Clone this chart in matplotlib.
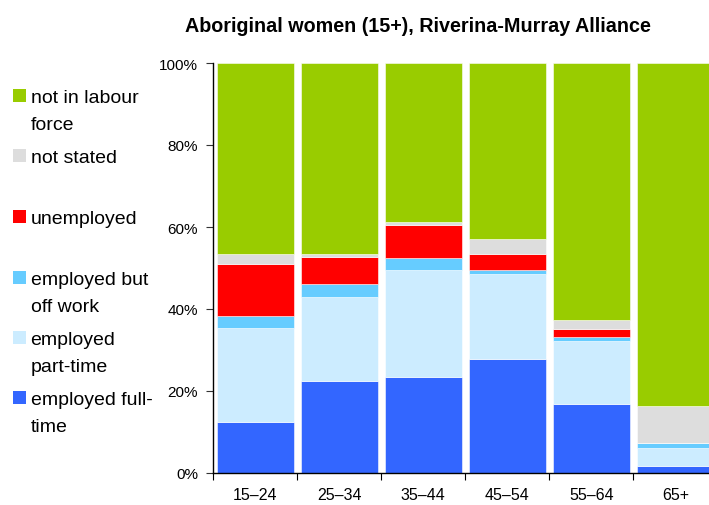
import matplotlib
matplotlib.use("Agg")
import matplotlib.pyplot as plt
from matplotlib.patches import Rectangle
import numpy as np

# age groups and labour force shares (%)
age_groups = ["15\u201324", "25\u201334", "35\u201344", "45\u201354", "55\u201364", "65+"]
full_time = [12.5, 22.4, 23.4, 27.8, 16.8, 1.8]
part_time = [22.8, 20.6, 26.2, 20.7, 15.4, 4.3]
off_work = [2.9, 3.1, 2.8, 1.0, 1.0, 1.2]
unemployed = [12.8, 6.7, 8.2, 4.0, 1.9, 0.0]
not_stated = [2.5, 0.6, 0.7, 3.6, 2.2, 9.1]
not_in_lf = [46.5, 46.6, 38.7, 42.9, 62.7, 83.6]

series = [full_time, part_time, off_work, unemployed, not_stated, not_in_lf]
colours = ["#3366FF", "#CCECFF", "#66CCFF", "#FF0000", "#DDDDDD", "#99CC00"]
legend_labels = ["employed full-\ntime", "employed\npart-time", "employed but\noff work",
                 "unemployed", "not stated", "not in labour\nforce"]

W, H = 709, 506
fig = plt.figure(figsize=(W / 100, H / 100), dpi=100)
# axes run past the right edge on purpose, the last bar is cut off in the original
ax = fig.add_axes([213.3 / W, 32 / H, 504 / W, 410 / H])

x = np.arange(len(age_groups)) + 0.5
bottom = np.zeros(len(age_groups))
for vals, col in zip(series, colours):
    ax.bar(x, vals, width=0.91, bottom=bottom, color=col,
           edgecolor=(1, 1, 1, 0.55), linewidth=0.7)
    bottom += np.array(vals)

ax.set_xlim(0, 6)
ax.set_ylim(0, 100)

ax.spines["top"].set_visible(False)
ax.spines["right"].set_visible(False)
ax.spines["left"].set_linewidth(1.0)
ax.spines["bottom"].set_linewidth(1.0)

ax.set_yticks(np.arange(0, 101, 20))
ax.set_yticklabels([f"{v}%" for v in range(0, 101, 20)])
ax.tick_params(axis="y", length=5, width=0.8, pad=6, labelsize=11,
               colors="#333333", labelcolor="black")
for lab in ax.get_yticklabels():
    lab.set_family("Liberation Sans")

ax.set_xticks(np.arange(0, 7))
ax.set_xticklabels([])
ax.set_xticks(x, minor=True)
ax.set_xticklabels(age_groups, minor=True)
ax.tick_params(axis="x", which="major", length=5, width=0.8, direction="out")
ax.tick_params(axis="x", which="minor", length=0, pad=10, labelsize=11.5)
for lab in ax.get_xticklabels(minor=True):
    lab.set_family("Liberation Sans")

fig.text(417.5 / W, 1 - 26 / H, "Aboriginal women (15+), Riverina-Murray Alliance",
         ha="center", va="center", fontsize=14.2, fontweight="bold",
         family="Liberation Sans")

# hand-placed legend on the left, top item first
sq_bottoms = [103.3, 162.7, 224.0, 285.0, 345.3, 405.3]
line_gap = 27
for lab, col, yb in zip(legend_labels[::-1], colours[::-1], sq_bottoms):
    fig.patches.append(Rectangle((12.7 / W, 1 - yb / H), 13.3 / W, 13 / H,
                                 transform=fig.transFigure, facecolor=col,
                                 edgecolor="none"))
    for i, line in enumerate(lab.split("\n")):
        fig.text(30.5 / W, 1 - (yb + i * line_gap) / H, line, ha="left",
                 va="baseline", fontsize=14, family="Liberation Sans")

fig.savefig("out.png", dpi=100)
